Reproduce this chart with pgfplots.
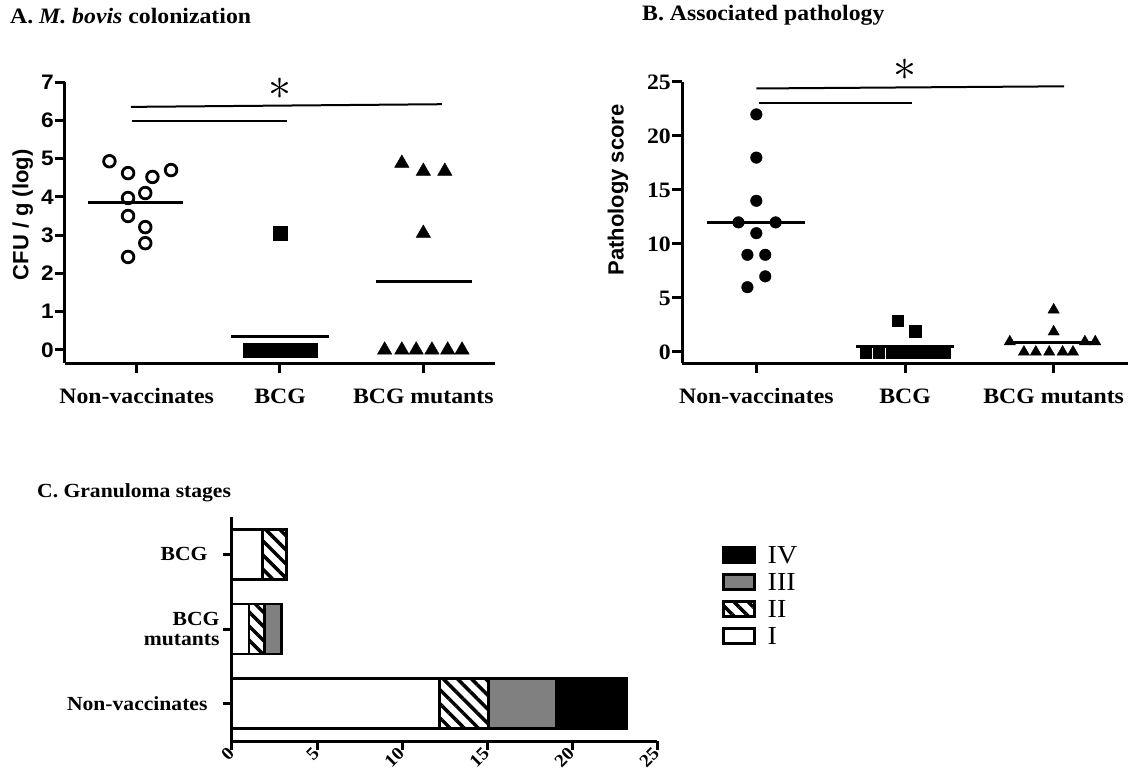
\documentclass[border=0pt]{standalone}
\usepackage{fontspec}
\setmainfont{Liberation Serif}[FakeStretch=1.08]
\newfontfamily\arialS{Liberation Sans}[FakeStretch=1.08]
\newfontfamily\arialN{Liberation Sans}
\usepackage{pgfplots}
\pgfplotsset{compat=1.18}
\usetikzlibrary{patterns.meta}

\pgfplotsset{
 prism/.style={
  scale only axis, clip=false,
  axis x line=bottom, axis y line=left,
  axis line style={line width=3pt,-},
  tick style={line width=3pt, black},
  tick align=outside,
  major tick length=10pt,
  /pgf/number format/assume math mode=true,
 },
 legimg/.style={legend image code/.code={\draw[##1, line width=2.5pt] (0pt,-7.5pt) rectangle (31pt,7.5pt);}},
}

\begin{document}
\begin{tikzpicture}
\path[use as bounding box] (0pt,0pt) rectangle (1128pt,-773pt);

\node[anchor=base west, font=\bfseries\fontsize{22}{22}\selectfont, inner sep=0pt] at (10pt,-24pt) {A. \textit{M. bovis} colonization};
\node[anchor=base west, font=\bfseries\fontsize{22}{22}\selectfont, inner sep=0pt] at (642pt,-21pt) {B. Associated pathology};
\node[anchor=base west, font=\bfseries\fontsize{20}{20}\selectfont, inner sep=0pt] at (37pt,-497pt) {C. Granuloma stages};

% ---------------- Panel A ----------------
\begin{axis}[prism, at={(65pt,-363pt)}, anchor=south west, width=430pt, height=281pt,
 xmin=-0.5, xmax=2.5, ymin=-0.34, ymax=7,
 xtick={0,1,2}, xticklabels={Non-vaccinates,BCG,BCG mutants},
 ytick={0,1,...,7},
 xticklabel style={font=\bfseries\fontsize{22}{22}\selectfont, yshift=-12pt},
 yticklabel style={font=\arialS\bfseries\fontsize{21}{21}\selectfont, inner sep=1pt},
 ylabel={CFU / g (log)},
 every axis y label/.style={at={(axis description cs:-0.098,0.527)}, rotate=90, anchor=center, font=\arialN\bfseries\fontsize{22}{22}\selectfont},
]
% Non-vaccinates (open circles)
\addplot[only marks, mark=o, mark size=5.8pt, mark options={line width=2.8pt, black}] coordinates {
 (-0.19,4.93) (-0.06,4.62) (0.11,4.52) (0.24,4.70) (0.06,4.10)
 (-0.06,3.97) (-0.06,3.50) (0.06,3.21) (0.06,2.79) (-0.06,2.43)};
% BCG (squares)
\addplot[only marks, mark=square*, mark size=7.2pt, black] coordinates {
 (1,3.05) (0.794,0) (0.845,0) (0.897,0) (0.948,0) (1,0) (1.052,0) (1.103,0) (1.155,0) (1.206,0)};
% BCG mutants (triangles)
\addplot[only marks, mark=triangle*, mark size=8.3pt, black] coordinates {
 (1.85,4.88) (2,4.67) (2.15,4.67) (2,3.05)
 (1.73,0) (1.85,0) (1.95,0) (2.06,0) (2.17,0) (2.27,0)};
% means
\addplot[line width=3pt, black] coordinates {(-0.34,3.86) (0.32,3.86)};
\addplot[line width=3pt, black] coordinates {(0.66,0.36) (1.34,0.36)};
\addplot[line width=3pt, black] coordinates {(1.67,1.78) (2.34,1.78)};
% significance
\addplot[line width=2pt, black] coordinates {(-0.04,6.35) (2.13,6.42)};
\addplot[line width=2pt, black] coordinates {(-0.03,5.98) (1.05,5.98)};
\node[scale=4.6] at (axis cs:1,6.81) {$\ast$};
\end{axis}

% ---------------- Panel B ----------------
\begin{axis}[prism, at={(682pt,-363pt)}, anchor=south west, width=446pt, height=281pt,
 xmin=-0.5, xmax=2.5, ymin=-1.02, ymax=25,
 xtick={0,1,2}, xticklabels={Non-vaccinates,BCG,BCG mutants},
 ytick={0,5,...,25},
 xticklabel style={font=\bfseries\fontsize{22}{22}\selectfont, yshift=-12pt},
 yticklabel style={font=\bfseries\fontsize{22}{22}\selectfont, inner sep=1pt},
 ylabel={Pathology score},
 every axis y label/.style={at={(axis description cs:-0.1435,0.616)}, rotate=90, anchor=center, font=\arialN\bfseries\fontsize{22}{22}\selectfont},
]
\addplot[only marks, mark=*, mark size=5.8pt, black] coordinates {
 (0,22) (0,18) (0,14) (-0.12,12) (0.13,12) (0,11) (-0.06,9) (0.06,9) (0.06,7) (-0.06,6)};
\addplot[only marks, mark=square*, mark size=5.8pt, black] coordinates {
 (0.95,2.9) (1.07,1.95)
 (0.735,0) (0.823,0) (0.912,0) (1,0) (1.088,0) (1.177,0) (1.265,0)};
\addplot[only marks, mark=triangle*, mark size=6.5pt, black] coordinates {
 (2,3.9) (2,1.87) (1.705,0.95) (2.21,0.95) (2.28,0.95)
 (1.80,0) (1.88,0) (1.97,0) (2.06,0) (2.13,0)};
\addplot[line width=3pt, black] coordinates {(-0.33,11.95) (0.33,11.95)};
\addplot[line width=3pt, black] coordinates {(0.67,0.5) (1.33,0.5)};
\addplot[line width=3pt, black] coordinates {(1.68,0.9) (2.27,0.9)};
\addplot[line width=2pt, black] coordinates {(0,24.4) (2.07,24.6)};
\addplot[line width=2pt, black] coordinates {(0.02,23.1) (1.05,23.1)};
\node[scale=4.6] at (axis cs:1,26.1) {$\ast$};
\end{axis}

% ---------------- Panel C ----------------
\begin{axis}[prism, at={(232pt,-741pt)}, anchor=south west, width=425pt, height=224pt,
 xbar stacked, bar width=50pt,
 xmin=0, xmax=25, ymin=-0.5, ymax=2.5,
 ytick={0,1,2}, yticklabels={Non-vaccinates\hspace{12pt},BCG\\mutants,BCG\hspace{12pt}},
 yticklabel style={align=right, font=\bfseries\fontsize{20}{20}\selectfont},
 xtick={0,5,...,25},
 major tick length=9pt,
 xticklabel style={rotate=45, anchor=east, font=\bfseries\fontsize{18}{18}\selectfont, inner sep=1pt},
 reverse legend,
 legend style={draw=none, fill=none, inner sep=0pt, at={(axis description cs:1.153,0.87)}, anchor=north west,
   font=\fontsize{26}{26}\selectfont, row sep=9.5pt, legend cell align=left,
   nodes={inner sep=0pt, text depth=0pt},
   /tikz/every odd column/.append style={column sep=12pt}},
]
\addplot[fill=white, draw=black, line width=2.5pt, legimg] coordinates {(12.2,0) (1.0,1) (1.8,2)};
\addplot[pattern={Lines[angle=-45,distance=10pt,line width=3.5pt]}, draw=black, line width=2.5pt, legimg] coordinates {(2.9,0) (0.9,1) (1.4,2)};
\addplot[fill=black!50, draw=black, line width=2.5pt, legimg] coordinates {(4.0,0) (1.0,1) (0,2)};
\addplot[fill=black, draw=black, line width=2.5pt, legimg] coordinates {(4.1,0) (0,1) (0,2)};
\legend{I,II,III,IV}
\end{axis}
\end{tikzpicture}
\end{document}
